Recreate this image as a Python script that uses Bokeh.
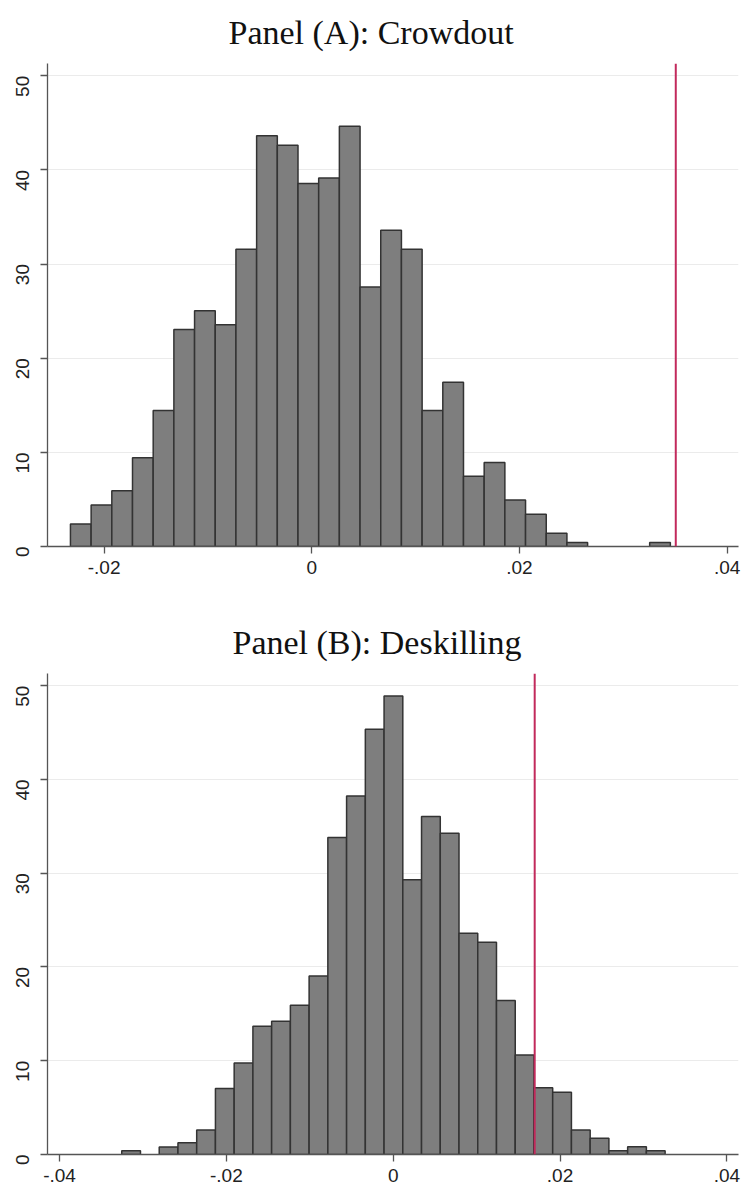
import math
from bokeh.plotting import figure
from bokeh.layouts import column
from bokeh.models import Range1d, FixedTicker, Span
from bokeh.core.properties import value
from bokeh.embed import file_html
from bokeh.resources import INLINE

# ---------------- data ----------------
# Panel A: Crowdout
title_a = "Panel (A): Crowdout"
bin_start_a = -0.02324
bin_width_a = 0.001992
heights_a = [2.39, 4.41, 5.93, 9.42, 14.44, 23.06, 25.04, 23.56, 31.57, 43.62,
             42.63, 38.56, 39.13, 44.64, 27.55, 33.59, 31.57, 14.44, 17.44, 7.45,
             8.93, 4.94, 3.42, 1.41, 0.42, 0.0, 0.0, 0.0, 0.42]
line_a = 0.03505
xrange_a = (-0.02545, 0.04109)
xticks_a = [-0.02, 0.0, 0.02, 0.04]
xlabels_a = ["-.02", "0", ".02", ".04"]

# Panel B: Deskilling
title_b = "Panel (B): Deskilling"
bin_start_b = -0.03254
bin_width_b = 0.002246
heights_b = [0.41, 0.0, 0.79, 1.24, 2.62, 7.05, 9.75, 13.68, 14.21, 15.93,
             19.04, 33.81, 38.23, 45.35, 48.91, 29.31, 36.06, 34.26, 23.61, 22.64,
             16.42, 10.61, 7.12, 6.63, 2.62, 1.72, 0.41, 0.82, 0.41]
line_b = 0.01696
xrange_b = (-0.04144, 0.04139)
xticks_b = [-0.04, -0.02, 0.0, 0.02, 0.04]
xlabels_b = ["-.04", "-.02", "0", ".02", ".04"]

yticks = [0, 10, 20, 30, 40, 50]
ylabels = ["0", "10", "20", "30", "40", "50"]
ymax = 51.3

BAR_FILL = "#7e7e7e"
BAR_LINE = "#333333"
LINE_COLOR = "#c22a5c"
AXIS_COLOR = "#555555"
LABEL_COLOR = "#222222"

PAGE_W = 744
LEFT = 47
RIGHT = 6


def make_title(text, height, left_px, baseline_from_bottom):
    # the column aligns this frame with the panels' frames (LEFT .. PAGE_W-RIGHT),
    # so the x range is expressed in page pixels over that span
    t = figure(width=PAGE_W, height=height,
               x_range=Range1d(LEFT, PAGE_W - RIGHT), y_range=Range1d(0, height),
               x_axis_location=None, y_axis_location=None,
               output_backend="svg", toolbar_location=None,
               min_border_left=LEFT, min_border_right=RIGHT,
               min_border_top=0, min_border_bottom=0,
               outline_line_color=None,
               background_fill_color="white", border_fill_color="white")
    t.grid.visible = False
    t.text(x=[left_px], y=[baseline_from_bottom], text=[text],
           text_align="left", text_baseline="alphabetic",
           text_font=value("Liberation Serif"), text_font_size="34px",
           text_color="#111111")
    return t


def make_panel(start, width, heights, line_x, xr, xticks, xlabels,
               height, bottom):
    lefts = [start + i * width for i in range(len(heights))]
    rights = [l + width for l in lefts]
    keep = [i for i, h in enumerate(heights) if h > 0]
    p = figure(width=PAGE_W, height=height,
               x_range=Range1d(*xr), y_range=Range1d(0, ymax),
               output_backend="svg", toolbar_location=None,
               min_border_left=LEFT, min_border_right=RIGHT,
               min_border_top=0, min_border_bottom=bottom,
               background_fill_color="white", border_fill_color="white",
               outline_line_color=None)
    p.quad(left=[lefts[i] for i in keep], right=[rights[i] for i in keep],
           bottom=0, top=[heights[i] for i in keep],
           fill_color=BAR_FILL, line_color=BAR_LINE, line_width=1.5)
    p.add_layout(Span(location=line_x, dimension="height",
                      line_color=LINE_COLOR, line_width=2))

    p.xaxis.ticker = FixedTicker(ticks=xticks)
    p.xaxis.major_label_overrides = {t: l for t, l in zip(xticks, xlabels)}
    p.yaxis.ticker = FixedTicker(ticks=yticks)
    p.yaxis.major_label_overrides = {t: l for t, l in zip(yticks, ylabels)}
    p.yaxis.major_label_orientation = math.pi / 2

    for ax in (p.xaxis, p.yaxis):
        ax.axis_line_color = AXIS_COLOR
        ax.axis_line_width = 1.3
        ax.major_tick_line_color = AXIS_COLOR
        ax.major_tick_line_width = 1.3
        ax.major_tick_out = 7
        ax.major_tick_in = 0
        ax.minor_tick_line_color = None
        ax.major_label_text_font = "Liberation Sans"
        ax.major_label_text_font_size = "19px"
        ax.major_label_text_color = LABEL_COLOR
    p.xaxis.major_label_standoff = 7
    p.yaxis.major_label_standoff = 18

    p.xgrid.visible = False
    p.ygrid.ticker = FixedTicker(ticks=yticks)
    p.ygrid.grid_line_color = "#ebebeb"
    p.ygrid.grid_line_width = 1
    return p


ta = make_title(title_a, height=63, left_px=228, baseline_from_bottom=31)
pa = make_panel(bin_start_a, bin_width_a, heights_a, line_a, xrange_a,
                xticks_a, xlabels_a, height=537, bottom=54)
tb = make_title(title_b, height=73, left_px=232, baseline_from_bottom=31)
pb = make_panel(bin_start_b, bin_width_b, heights_b, line_b, xrange_b,
                xticks_b, xlabels_b, height=520, bottom=39)

layout = column(ta, pa, tb, pb, spacing=0)
open("out.html", "w").write(file_html(layout, INLINE))
